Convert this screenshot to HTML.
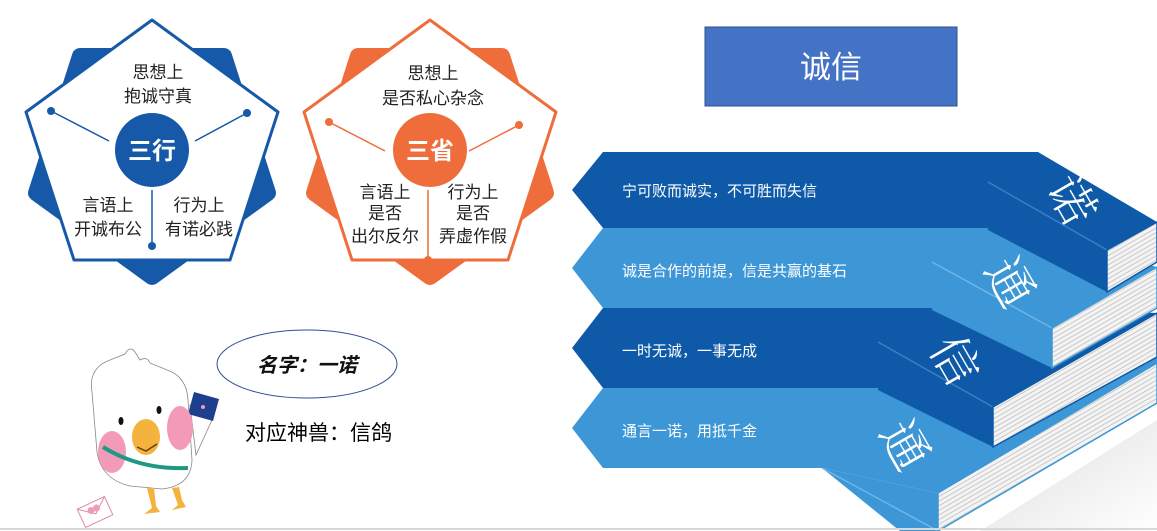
<!DOCTYPE html>
<html><head><meta charset="utf-8"><style>
html,body{margin:0;padding:0;background:#fff;width:1157px;height:531px;overflow:hidden}
text{font-family:"Liberation Sans","Noto Sans CJK SC",sans-serif}
.bk{font-family:"Noto Serif CJK SC",serif;font-weight:300}
</style></head><body>
<svg width="1157" height="531" viewBox="0 0 1157 531" xmlns="http://www.w3.org/2000/svg">
<defs>
<pattern id="pg" width="6" height="4" patternUnits="userSpaceOnUse" patternTransform="rotate(-30)">
<rect width="6" height="4" fill="#f4f4f4"/><rect y="3" width="6" height="1" fill="#c9c9c9"/>
</pattern>
<linearGradient id="sh" x1="0" y1="0" x2="1" y2="1"><stop offset="0" stop-color="#ddd"/><stop offset="1" stop-color="#fff"/></linearGradient>
</defs>
<!-- Blue pentagon -->
<polygon points="152,277 36,193 80,56 224,56 268,193" fill="#1559a8" stroke="#1559a8" stroke-width="16" stroke-linejoin="round"/>
<polygon points="152,20 278,112 230,260 74,260 26,112" fill="#fff" stroke="#1559a8" stroke-width="3" stroke-linejoin="round"/>
<circle cx="152" cy="150" r="37" fill="#1559a8"/>
<text x="152" y="159" font-size="24" font-weight="bold" fill="#fff" text-anchor="middle">三行</text>
<line x1="51" y1="111" x2="109" y2="141" stroke="#1559a8" stroke-width="1.5"/><circle cx="51" cy="111" r="4" fill="#1559a8"/>
<line x1="247" y1="113" x2="195" y2="141" stroke="#1559a8" stroke-width="1.5"/><circle cx="247" cy="113" r="4" fill="#1559a8"/>
<line x1="152" y1="190" x2="152" y2="246" stroke="#1559a8" stroke-width="1.5"/><circle cx="152" cy="246" r="4" fill="#1559a8"/>
<g font-size="17" fill="#222" text-anchor="middle">
<text x="158" y="78">思想上</text><text x="158" y="102">抱诚守真</text>
<text x="108" y="211">言语上</text><text x="108" y="235">开诚布公</text>
<text x="199" y="211">行为上</text><text x="199" y="235">有诺必践</text>
</g>
<!-- Orange pentagon -->
<polygon points="430,277 314,193 358,56 502,56 546,193" fill="#ee6d3b" stroke="#ee6d3b" stroke-width="16" stroke-linejoin="round"/>
<polygon points="430,20 556,112 508,260 352,260 304,112" fill="#fff" stroke="#ee6d3b" stroke-width="3" stroke-linejoin="round"/>
<circle cx="430" cy="150" r="37" fill="#ee6d3b"/>
<text x="430" y="159" font-size="24" font-weight="bold" fill="#fff" text-anchor="middle">三省</text>
<line x1="329" y1="122" x2="385" y2="151" stroke="#ee6d3b" stroke-width="1.5"/><circle cx="329" cy="122" r="4" fill="#ee6d3b"/>
<line x1="519" y1="125" x2="469" y2="151" stroke="#ee6d3b" stroke-width="1.5"/><circle cx="519" cy="125" r="4" fill="#ee6d3b"/>
<line x1="428" y1="190" x2="428" y2="260" stroke="#ee6d3b" stroke-width="1.5"/><circle cx="428" cy="260" r="4" fill="#ee6d3b"/>
<g font-size="17" fill="#222" text-anchor="middle">
<text x="433" y="79">思想上</text><text x="433" y="104">是否私心杂念</text>
<text x="385" y="198">言语上</text><text x="385" y="219">是否</text><text x="385" y="242">出尔反尔</text>
<text x="473" y="198">行为上</text><text x="473" y="219">是否</text><text x="473" y="242">弄虚作假</text>
</g>
<!-- Title -->
<rect x="705" y="27" width="252" height="79" fill="#4472c4" stroke="#2f528f" stroke-width="1"/>
<text x="831" y="78" font-size="31" fill="#fff" text-anchor="middle">诚信</text>
<!-- shadow -->
<polygon points="1157,420 1157,531 980,531" fill="url(#sh)"/>
<!-- Row4 + book4 -->
<polygon points="572,428 603,388 1000,388 1157,340 1157,363 938,493 822,468 603,468" fill="#3d97d6"/>
<polygon points="822,468 938,493 938,531 900,531" fill="#3d97d6"/>
<line x1="822" y1="468" x2="938" y2="531" stroke="#6fb6e6" stroke-width="1.5"/>
<polygon points="938,493 1157,363 1157,403 938,531" fill="url(#pg)" stroke="#3d97d6" stroke-width="1.5"/>
<text class="bk" x="905" y="445" font-size="48" fill="#fff" text-anchor="middle" transform="rotate(60 905 445) translate(0 17)">通</text>
<!-- Row3 + book3 -->
<polygon points="572,348 603,308 1000,308 1157,313 993,407 878,342 878,388 603,388" fill="#0f5aa8"/>
<polygon points="878,342 993,407 993,447 878,390" fill="#0f5aa8"/>
<line x1="878" y1="342" x2="993" y2="407" stroke="#3a7fc4" stroke-width="1.5"/>
<polygon points="993,407 1157,313 1157,357 993,447" fill="url(#pg)" stroke="#0f5aa8" stroke-width="1.5"/>
<text class="bk" x="955" y="360" font-size="48" fill="#fff" text-anchor="middle" transform="rotate(60 955 360) translate(0 17)">信</text>
<!-- Row2 + book2 -->
<polygon points="572,268 603,228 1000,228 1157,267 1052,328 932,262 932,308 603,308" fill="#3d97d6"/>
<polygon points="932,262 1052,328 1052,368 932,310" fill="#3d97d6"/>
<line x1="932" y1="262" x2="1052" y2="328" stroke="#6fb6e6" stroke-width="1.5"/>
<polygon points="1052,328 1157,267 1157,308 1052,368" fill="url(#pg)" stroke="#3d97d6" stroke-width="1.5"/>
<text class="bk" x="1010" y="282" font-size="48" fill="#fff" text-anchor="middle" transform="rotate(60 1010 282) translate(0 17)">通</text>
<!-- Row1 + book1 -->
<polygon points="572,190 603,152 1038,152 1157,222 1107,250 988,182 988,228 603,228" fill="#0f5aa8"/>
<polygon points="988,182 1107,250 1107,292 988,230" fill="#0f5aa8"/>
<line x1="988" y1="182" x2="1107" y2="250" stroke="#3a7fc4" stroke-width="1.5"/>
<polygon points="1107,250 1157,222 1157,262 1107,292" fill="url(#pg)" stroke="#0f5aa8" stroke-width="1.5"/>
<text class="bk" x="1072" y="200" font-size="48" fill="#fff" text-anchor="middle" transform="rotate(60 1072 200) translate(0 17)">诺</text>
<g font-size="15" fill="#fff">
<text x="622" y="196">宁可败而诚实，不可胜而失信</text>
<text x="622" y="276">诚是合作的前提，信是共赢的基石</text>
<text x="622" y="356">一时无诚，一事无成</text>
<text x="622" y="436">通言一诺，用抵千金</text>
</g>
<!-- Speech ellipse -->
<ellipse cx="307" cy="364" rx="90" ry="34" fill="#fff" stroke="#2f4f8f" stroke-width="1"/>
<text x="307" y="372" font-size="20" font-style="italic" font-weight="bold" fill="#111" text-anchor="middle">名字：一诺</text>
<text x="245" y="440" font-size="21" fill="#000">对应神兽：信鸽</text>
<!-- Bird -->
<path d="M190,405 Q210,410 212,420 L196,455 Z" fill="#fff" stroke="#888" stroke-width="0.8"/>
<polygon points="194,392 219,399 213,421 188,414" fill="#1e3f8e"/>
<circle cx="203" cy="407" r="2" fill="#f29ab8"/>
<path d="M92,392 Q88,368 110,360 L125,354 Q130,345 135,352 L140,360 Q147,356 150,363 L172,372 Q187,380 188,400 L192,460 Q191,486 162,489 L130,486 Q101,479 97,452 Z" fill="#fff" stroke="#888" stroke-width="0.8"/>
<ellipse cx="112" cy="452" rx="14" ry="21" fill="#f29ab8"/>
<ellipse cx="180" cy="428" rx="13" ry="22" fill="#f29ab8"/>
<path d="M103,447 Q140,470 188,468" fill="none" stroke="#1f9a82" stroke-width="4"/>
<ellipse cx="146" cy="437" rx="14" ry="18" fill="#f4b33c"/>
<path d="M137,447 L146,451 L157,444" fill="none" stroke="#6b3b16" stroke-width="1.5"/>
<ellipse cx="121" cy="421" rx="2.5" ry="4" fill="#111"/>
<ellipse cx="159" cy="410" rx="2.5" ry="4" fill="#111"/>
<path d="M147,488 L152,508 L144,514 L160,512 L156,506 L154,488 Z" fill="#f4b33c"/>
<path d="M172,488 L178,505 L172,510 L186,507 L182,500 L179,487 Z" fill="#f4b33c"/>
<g transform="rotate(-25 95 512)"><rect x="80" y="502" width="30" height="20" fill="#fff" stroke="#d88fa8" stroke-width="1"/><path d="M80,502 L95,514 L110,502" fill="none" stroke="#d88fa8"/><circle cx="92" cy="509" r="3.5" fill="#f29ab8"/><circle cx="98" cy="509" r="3.5" fill="#f29ab8"/></g>
<line x1="0" y1="529" x2="1157" y2="529" stroke="#d8d8d8" stroke-width="2"/>
</svg>
</body></html>
